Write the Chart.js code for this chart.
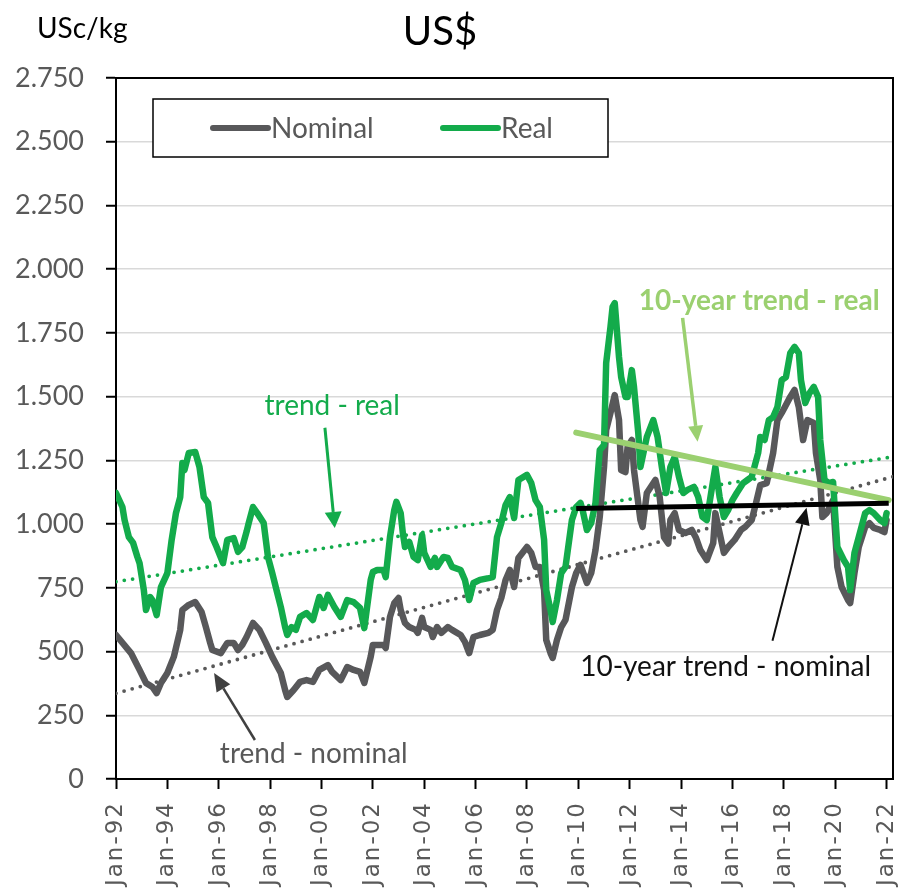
<!DOCTYPE html>
<html>
<head>
<meta charset="utf-8">
<script src="https://cdn.jsdelivr.net/npm/chart.js@4.4.1/dist/chart.umd.min.js"></script>
<style>
html,body{margin:0;padding:0;background:#fff;}
#wrap{width:900px;height:889px;}
canvas{display:block;}
</style>
</head>
<body>
<div id="wrap"><canvas id="c" width="900" height="889"></canvas></div>
<script>
// ---------- DATA ----------
const titleText = 'US$';
const unitText = 'USc/kg';

// x is months since Jan-92
const xTickMonths = [0,24,48,72,96,120,144,168,192,216,240,264,288,312,336,360];
const xTickLabels = ['Jan-92','Jan-94','Jan-96','Jan-98','Jan-00','Jan-02','Jan-04','Jan-06','Jan-08','Jan-10','Jan-12','Jan-14','Jan-16','Jan-18','Jan-20','Jan-22'];
const yTickValues = [0,250,500,750,1000,1250,1500,1750,2000,2250,2500,2750];
const yTickLabels = ['0','250','500','750','1.000','1.250','1.500','1.750','2.000','2.250','2.500','2.750'];

const nominalMonths = [0,7,11,14,17,19,21,24,27,30,31,34,37,40,42,44,45,49,52,55,57,59,61,64,67,70,73,77,79,80,83,86,89,92,95,99,101,105,108,111,114,116,119,120,125,126,128,130,132,133,135,137,140,141,143,144,147,148,150,152,155,157,161,163,165,167,170,174,176,178,180,182,184,186,188,192,194,196,198,200,201,203,204,206,208,210,213,215,217,220,222,224,226,228,229,231,233,235,236,238,239,241,242,245,246,248,252,254,256,258,259,261,263,266,269,271,273,276,279,280,282,284,286,289,292,294,297,299,301,304,307,309,311,315,317,319,321,323,326,327,329,330,332,335,337,339,342,343,345,347,350,352,354,357,359,360];
const nominalValues = [565,494,428,377,361,337,377,416,479,585,663,683,694,655,596,534,506,494,534,534,506,526,557,612,585,534,479,416,349,322,349,381,388,381,428,447,420,388,439,428,420,377,480,526,526,514,636,690,710,663,612,596,585,573,632,596,585,557,596,573,596,585,565,538,494,557,565,573,585,663,710,781,820,753,867,910,887,832,832,741,545,494,475,545,596,624,753,808,840,769,808,898,1028,1224,1369,1436,1506,1408,1212,1204,1302,1330,1212,1016,989,1122,1173,1106,949,924,1016,1043,977,965,977,945,898,859,925,1043,965,887,910,938,977,989,1016,1083,1153,1161,1279,1408,1436,1499,1526,1459,1330,1408,1397,1279,1173,1028,1043,1094,832,753,702,690,808,910,989,1004,985,977,969,1016];

const realMonths = [0,3,4,6,8,10,11,13,14,16,17,19,21,24,26,28,30,31,32,34,37,39,41,43,45,47,50,52,55,57,59,61,62,64,66,69,71,73,75,77,79,80,82,84,86,89,92,95,97,99,102,105,108,111,114,116,119,120,122,125,126,128,130,131,133,134,135,137,139,141,143,144,147,149,150,153,155,157,161,163,165,167,170,174,176,178,180,182,184,186,188,192,194,196,198,200,201,203,204,206,208,210,213,215,217,218,220,222,224,226,228,229,231,232,233,235,236,238,239,241,242,244,245,248,251,253,255,257,259,261,263,265,267,270,272,274,276,279,280,282,284,286,288,290,293,295,297,300,301,303,305,307,309,311,313,315,317,319,320,322,324,326,328,329,331,333,335,337,340,342,343,345,347,350,352,354,357,359,360];
const realValues = [1122,1067,1016,949,926,871,847,741,663,714,702,643,753,808,938,1043,1106,1240,1212,1279,1283,1224,1106,1083,949,910,847,938,945,891,910,970,1004,1067,1043,1004,871,808,741,675,596,565,596,585,636,651,624,714,671,722,675,636,702,694,671,592,781,812,820,820,792,949,1055,1087,1043,965,910,930,871,859,957,887,832,867,832,871,867,832,820,781,702,769,781,788,792,949,1004,1075,1106,1024,1173,1193,1161,1094,1067,938,741,663,616,702,808,832,1016,1067,1083,1055,977,1004,1083,1290,1310,1632,1773,1852,1867,1655,1577,1499,1499,1604,1538,1357,1224,1342,1408,1342,1224,1122,1224,1263,1185,1122,1134,1146,1106,1028,1016,1173,1224,1106,1028,1055,1094,1122,1161,1173,1185,1279,1342,1330,1408,1420,1459,1565,1577,1671,1695,1671,1565,1475,1514,1538,1499,1330,1173,1161,1165,910,859,832,741,887,949,1043,1055,1043,1016,1004,1043];

const trendMonths = [0, 363];
const trendNominalValues = [336, 1186];
const trendRealValues = [774, 1264];
const tenYearMonths = [215, 361];
const tenYearNominalValues = [1061, 1082];
const tenYearRealValues = [1359, 1094];

const legendLabels = ['Nominal', 'Real'];

// ---------- STYLE ----------
const GREEN = '#13ab4b';
const GREY = '#58585a';
const LIGHTGREEN = '#9bd070';
const TXTGREY = '#595959';
const FONT = 'Lato';

const pts = (xs, ys) => xs.map((x, i) => ({x: x, y: ys[i]}));

// annotations (positions in data units: month, value)
const notes = [
  {text: 'trend - real', at: [101, 1464], color: GREEN, weight: 'normal',
   arrow: {from: [97.6, 1378], to: [102.2, 985], color: GREEN, lw: 3, hl: 16, hw: 17}},
  {text: 'trend - nominal', at: [92.4, 98], color: TXTGREY, weight: 'normal',
   arrow: {from: [64.9, 153], to: [45.8, 416], color: '#404040', lw: 2.5, hl: 18, hw: 16}},
  {text: '10-year trend - real', at: [300.5, 1876], color: LIGHTGREEN, weight: 'bold',
   arrow: {from: [264.7, 1809], to: [271.7, 1323], color: LIGHTGREEN, lw: 3.5, hl: 16, hw: 15}},
  {text: '10-year trend - nominal', at: [284.8, 440], color: '#111', weight: 'normal',
   arrow: {from: [306.7, 542], to: [322.6, 1064], color: '#111', lw: 2, hl: 17, hw: 15}}
];

function drawArrow(ctx, x1, y1, x2, y2, color, lw, hl, hw) {
  const a = Math.atan2(y2 - y1, x2 - x1);
  const bx = x2 - hl * Math.cos(a), by = y2 - hl * Math.sin(a);
  ctx.save();
  ctx.strokeStyle = color; ctx.lineWidth = lw; ctx.lineCap = 'butt';
  ctx.beginPath(); ctx.moveTo(x1, y1); ctx.lineTo(bx, by); ctx.stroke();
  ctx.fillStyle = color;
  ctx.beginPath();
  ctx.moveTo(x2, y2);
  ctx.lineTo(bx + hw / 2 * Math.sin(a), by - hw / 2 * Math.cos(a));
  ctx.lineTo(bx - hw / 2 * Math.sin(a), by + hw / 2 * Math.cos(a));
  ctx.closePath(); ctx.fill();
  ctx.restore();
}

const extras = {
  id: 'extras',
  beforeDraw(chart) {
    const sx = chart.scales.x;
    if (sx && !sx._lsWrapped) {
      const orig = sx.drawLabels;
      sx.drawLabels = function (area) {
        const ctx = this.ctx;
        ctx.save();
        try { ctx.letterSpacing = '2px'; } catch (e) {}
        orig.call(this, area);
        ctx.restore();
      };
      sx._lsWrapped = true;
    }
  },
  afterDatasetsDraw(chart) {
    const ctx = chart.ctx, ca = chart.chartArea;
    const xs = chart.scales.x, ys = chart.scales.y;
    // legend box
    const L = ca.left + 37, T = ca.top + 21, W = 455, H = 58;
    ctx.save();
    ctx.fillStyle = '#fff';
    ctx.fillRect(L, T, W, H);
    ctx.strokeStyle = '#000'; ctx.lineWidth = 1.5;
    ctx.strokeRect(L, T, W, H);
    legendLabels.forEach((lab, i) => {
      const ds = chart.data.datasets.find(d => d.label === lab);
      const x0 = L + 60 + i * 230, yc = T + H / 2;
      ctx.strokeStyle = ds.borderColor; ctx.lineWidth = 6; ctx.lineCap = 'round';
      ctx.beginPath(); ctx.moveTo(x0, yc); ctx.lineTo(x0 + 55, yc); ctx.stroke();
      ctx.fillStyle = TXTGREY; ctx.font = '28px ' + FONT;
      ctx.textAlign = 'left'; ctx.textBaseline = 'middle';
      ctx.fillText(lab, x0 + 58, yc + 1);
    });
    // annotations
    notes.forEach(n => {
      const a = n.arrow;
      drawArrow(ctx, xs.getPixelForValue(a.from[0]), ys.getPixelForValue(a.from[1]),
        xs.getPixelForValue(a.to[0]), ys.getPixelForValue(a.to[1]), a.color, a.lw, a.hl, a.hw);
      ctx.fillStyle = n.color;
      ctx.font = (n.weight === 'bold' ? 'bold ' : '') + '28px ' + FONT;
      ctx.textAlign = 'center'; ctx.textBaseline = 'middle';
      ctx.fillText(n.text, xs.getPixelForValue(n.at[0]), ys.getPixelForValue(n.at[1]));
    });
    ctx.restore();
  },
  afterDraw(chart) {
    const ctx = chart.ctx;
    ctx.save();
    ctx.fillStyle = '#000'; ctx.font = '28px ' + FONT;
    ctx.textAlign = 'left'; ctx.textBaseline = 'middle';
    ctx.fillText(unitText, 37, 29);
    ctx.restore();
  }
};

const lineBase = {pointRadius: 0, pointHoverRadius: 0, tension: 0, fill: false,
  borderJoinStyle: 'round', borderCapStyle: 'round'};

new Chart(document.getElementById('c'), {
  type: 'line',
  data: {
    datasets: [
      Object.assign({}, lineBase, {label: '10-year trend - nominal', data: pts(tenYearMonths, tenYearNominalValues), borderColor: '#000', borderWidth: 5, borderCapStyle: 'butt', order: 0}),
      Object.assign({}, lineBase, {label: '10-year trend - real', data: pts(tenYearMonths, tenYearRealValues), borderColor: LIGHTGREEN, borderWidth: 6, order: 1}),
      Object.assign({}, lineBase, {label: 'Real', data: pts(realMonths, realValues), borderColor: GREEN, borderWidth: 6.5, order: 2}),
      Object.assign({}, lineBase, {label: 'Nominal', data: pts(nominalMonths, nominalValues), borderColor: GREY, borderWidth: 6.5, order: 3}),
      Object.assign({}, lineBase, {label: 'trend - real', data: pts(trendMonths, trendRealValues), borderColor: GREEN, borderWidth: 3.8, borderDash: [0, 8.4], order: 4}),
      Object.assign({}, lineBase, {label: 'trend - nominal', data: pts(trendMonths, trendNominalValues), borderColor: TXTGREY, borderWidth: 3.8, borderDash: [0, 8.4], order: 5})
    ]
  },
  options: {
    responsive: false,
    animation: false,
    devicePixelRatio: 1,
    events: [],
    layout: {padding: {left: -20, right: 0, top: 0, bottom: 0}},
    plugins: {
      legend: {display: false},
      tooltip: {enabled: false},
      title: {display: true, text: titleText, color: '#000',
        font: {family: FONT, size: 40, weight: 'normal', lineHeight: 1.2},
        padding: {top: 8, bottom: 22}}
    },
    scales: {
      x: {
        type: 'linear', position: 'bottom', min: 0, max: 363,
        afterBuildTicks: s => { s.ticks = xTickMonths.map(v => ({value: v})); },
        afterFit: s => { s.height = 110; s.paddingLeft = 0; s.paddingRight = 0; },
        ticks: {autoSkip: false, minRotation: 90, maxRotation: 90, padding: 12, color: TXTGREY,
          font: {family: 'DejaVu Sans', size: 23},
          callback: (v, i) => xTickLabels[i]},
        grid: {display: true, drawOnChartArea: false, drawTicks: true, tickLength: 10, tickColor: '#000', tickWidth: 2},
        border: {display: true, color: '#000', width: 2}
      },
      y: {
        type: 'linear', position: 'left', min: 0, max: 2750,
        afterBuildTicks: s => { s.ticks = yTickValues.map(v => ({value: v})); },
        afterFit: s => { s.width = 136; s.paddingTop = 0; s.paddingBottom = 0; },
        ticks: {padding: 22, color: TXTGREY, font: {family: FONT, size: 27},
          callback: (v, i) => yTickLabels[i]},
        grid: {color: '#d9d9d9', lineWidth: 1.5, drawTicks: true, tickLength: 10, tickColor: '#000', tickWidth: 2},
        border: {display: true, color: '#000', width: 2}
      },
      x2: {
        type: 'linear', position: 'top', min: 0, max: 363,
        ticks: {display: false}, grid: {display: false},
        border: {display: true, color: '#000', width: 2},
        afterFit: s => { s.height = 0; s.paddingLeft = 0; s.paddingRight = 0; }
      },
      y2: {
        type: 'linear', position: 'right', min: 0, max: 2750,
        ticks: {display: false}, grid: {display: false},
        border: {display: true, color: '#000', width: 2},
        afterFit: s => { s.width = 7; s.paddingTop = 0; s.paddingBottom = 0; }
      }
    }
  },
  plugins: [extras]
});
</script>
</body>
</html>
